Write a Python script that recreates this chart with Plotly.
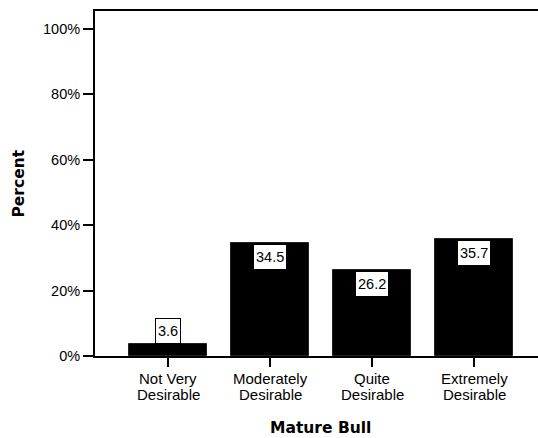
import plotly.graph_objects as go

categories = ["Not Very Desirable", "Moderately Desirable", "Quite Desirable", "Extremely Desirable"]
tick_line1 = ["Not Very", "Moderately", "Quite", "Extremely"]
tick_line2 = ["Desirable", "Desirable", "Desirable", "Desirable"]
percent_values = [3.6, 34.5, 26.2, 35.7]
y_tick_values = [0, 20, 40, 60, 80, 100]
y_tick_labels = ["0%", "20%", "40%", "60%", "80%", "100%"]
x_title = "Mature Bull"
y_title = "Percent"

FONT = "Liberation Sans, Arial, Helvetica, sans-serif"
BOLD_FONT = "DejaVu Sans, Liberation Sans, Arial, sans-serif"

x_pos = list(range(len(categories)))

fig = go.Figure()
fig.add_trace(go.Bar(
    x=x_pos, y=percent_values, width=0.765,
    marker=dict(color="black", line=dict(color="#222222", width=1)),
    hoverinfo="skip", showlegend=False,
))

annotations = []
for xi, v in zip(x_pos, percent_values):
    inside = v > 8
    annotations.append(dict(
        x=xi, y=v, xref="x", yref="y", text=f"{v:.1f}", showarrow=False,
        yanchor="top" if inside else "bottom", yshift=-1 if inside else 0,
        font=dict(family=FONT, size=14.5, color="black"),
        height=20,
        bgcolor="white", bordercolor="black", borderwidth=1, borderpad=2,
    ))

# two-line category labels with tight (SPSS-like) line spacing
for xi, l1, l2 in zip(x_pos, tick_line1, tick_line2):
    for txt, shift in ((l1, -22), (l2, -38)):
        annotations.append(dict(
            x=xi, y=0, xref="x", yref="paper", text=txt, showarrow=False,
            xanchor="center", yanchor="middle", yshift=shift,
            font=dict(family=FONT, size=15, color="black"),
        ))

annotations.append(dict(
    text=y_title, xref="paper", yref="paper", x=-0.1738, y=0.5,
    textangle=-90, showarrow=False, xanchor="center", yanchor="middle",
    font=dict(family=BOLD_FONT, size=15.5, color="black", weight="bold"),
))
annotations.append(dict(
    text=x_title, xref="paper", yref="paper", x=0.51, y=-0.2087,
    showarrow=False, xanchor="center", yanchor="middle",
    font=dict(family=BOLD_FONT, size=15.5, color="black", weight="bold"),
))

fig.update_layout(
    width=538, height=438,
    margin=dict(l=95, r=0, t=11, b=82, autoexpand=False),
    paper_bgcolor="white", plot_bgcolor="white",
    font=dict(family=FONT, color="black"),
    annotations=annotations,
    bargap=0,
)
fig.update_xaxes(
    range=[-0.716, 3.627], tickmode="array", tickvals=x_pos, ticktext=categories,
    showticklabels=False,
    showline=True, linecolor="black", linewidth=2, mirror=True,
    ticks="outside", ticklen=9, tickwidth=2, tickcolor="black",
    showgrid=False, zeroline=False,
)
fig.update_yaxes(
    range=[0, 105.5], tickmode="array", tickvals=y_tick_values, ticktext=y_tick_labels,
    showline=True, linecolor="black", linewidth=2,
    ticks="outside", ticklen=10, tickwidth=2, tickcolor="black",
    showgrid=False, zeroline=False,
    tickfont=dict(family=FONT, size=14.5, color="black"),
)

fig.write_html(
    "out.html",
    config={"displayModeBar": False},
    post_script="document.body.style.margin='0';document.body.style.overflow='hidden';",
)
